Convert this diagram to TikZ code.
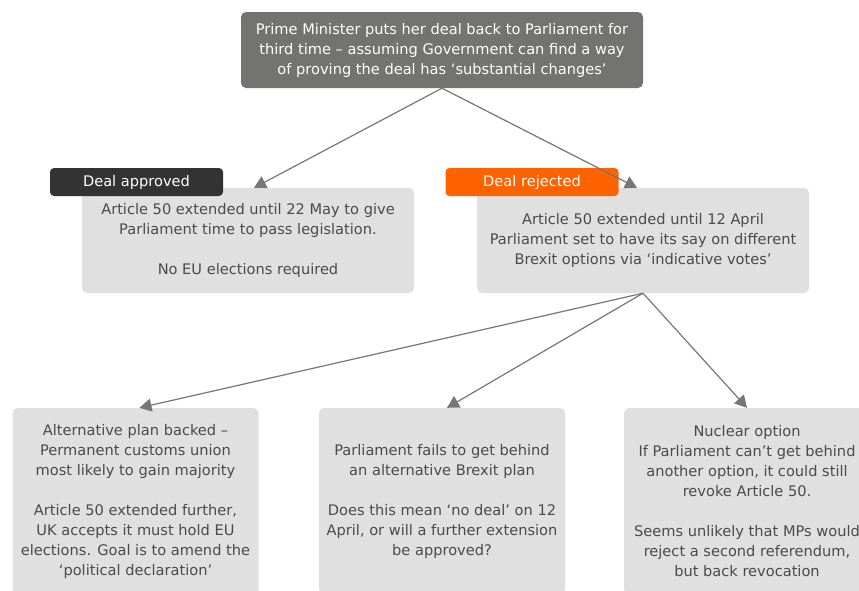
\documentclass[tikz,border=0pt]{standalone}
\usepackage{fontspec}
\setmainfont{DejaVu Sans}
\usepackage{xcolor}
\usetikzlibrary{positioning,shapes,arrows.meta}

\definecolor{headgrey}{HTML}{737372}
\definecolor{boxgrey}{HTML}{E0E0E0}
\definecolor{txtgrey}{HTML}{4A4A4A}
\definecolor{linegrey}{HTML}{767676}
\definecolor{ingorange}{HTML}{FF6200}
\definecolor{tagdark}{HTML}{333333}

\begin{document}
\begin{tikzpicture}[x=1pt,y=-1pt]
\useasboundingbox (0,0) rectangle (859,590);
\clip (0,0) rectangle (859,590);
\tikzstyle{every node}=[font=\fontsize{14.6}{20}\selectfont, align=center, rounded corners=5pt, inner sep=0pt];
\tikzstyle{headbox}=[fill=headgrey, text=white, minimum width=402pt, minimum height=76pt];
\tikzstyle{optbox}=[fill=boxgrey, text=txtgrey, minimum width=332pt, minimum height=105pt];
\tikzstyle{endbox}=[fill=boxgrey, text=txtgrey, minimum width=246pt, minimum height=186pt];
\tikzstyle{tag}=[text=white, minimum width=173pt, minimum height=28pt, rounded corners=4pt];
\tikzstyle{link}=[draw=linegrey, line width=1.2pt, -{Triangle[width=13pt,length=12pt]}];

\node[headbox] (pm) at (442,50) {Prime Minister puts her deal back to Parliament for\\third time -- assuming Government can find a way\\of proving the deal has ‘substantial changes’};

\node[optbox] (appr) at (248,240.5) {Article 50 extended until 22 May to give\\Parliament time to pass legislation.\\[20pt]No EU elections required};
\node[optbox] (rej) at (643,240.5) {Article 50 extended until 12 April\\Parliament set to have its say on different\\Brexit options via ‘indicative votes’};

\node[tag, fill=tagdark] (apprtag) at (136.5,182) {Deal approved};
\node[tag, fill=ingorange] (rejtag) at (532,182) {Deal rejected};

\node[endbox] (alt) at (135.5,501) {Alternative plan backed --\\Permanent customs union\\most likely to gain majority\\[20pt]Article 50 extended further,\\UK accepts it must hold EU\\elections. Goal is to amend the\\‘political declaration’};
\node[endbox] (fail) at (442,501) {Parliament fails to get behind\\an alternative Brexit plan\\[20pt]Does this mean ‘no deal’ on 12\\April, or will a further extension\\be approved?};
\node[endbox] (nuke) at (747,501) {Nuclear option\\If Parliament can’t get behind\\another option, it could still\\revoke Article 50.\\[20pt]Seems unlikely that MPs would\\reject a second referendum,\\but back revocation};

\draw[link] (pm.south) -- ([xshift=6pt]appr.north);
\draw[link] (pm.south) -- ([xshift=-6pt]rej.north);
\draw[link] (rej.south) -- ([xshift=4pt]alt.north);
\draw[link] (rej.south) -- ([xshift=5pt]fail.north);
\draw[link] (rej.south) -- (nuke.north);
\end{tikzpicture}
\end{document}
